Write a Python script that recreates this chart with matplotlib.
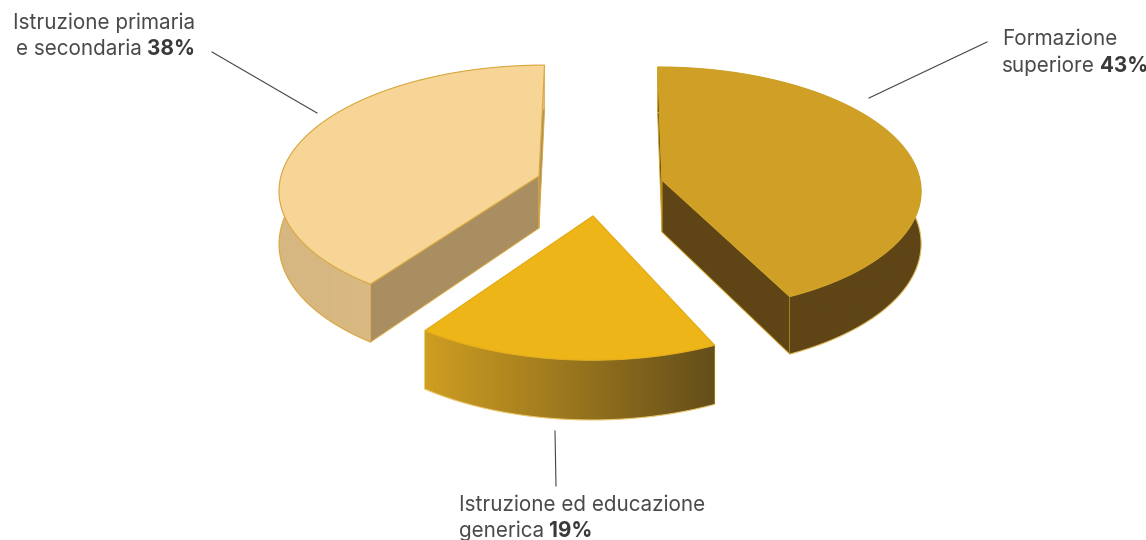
import numpy as np
import matplotlib
matplotlib.use('Agg')
import matplotlib.pyplot as plt
from matplotlib.colors import LinearSegmentedColormap
from matplotlib.patches import Polygon

plt.rcParams['font.family'] = ['Inter', 'DejaVu Sans']

# label text and the printed percentages
categories = [['Formazione', 'superiore'],
              ['Istruzione ed educazione', 'generica'],
              ['Istruzione primaria', 'e secondaria']]
percents = ['43%', '19%', '38%']
# slice edges as they are drawn in the picture, degrees clockwise from the top
sweep_start = [0, 155.5, 215.5]
sweep_end = [153.5, 215, 360]

top_colors = ['#CFA025', '#EDB518', '#F6D597']
cut_colors = ['#5F4516', '#8A6A20', '#A98E62']
wall_colors = [('#5F4516', '#5F4516'), ('#CF9E22', '#644E1A'), ('#D6B681', '#E0BE84')]
edge_colors = ['#D0A228', '#E4AE1C', '#D9A83E']
rim_colors = ['#E0BC60', '#EBC76E', '#D9A83E']

# apex of each exploded slice, in pixels
centers = [(662, 180), (593, 216), (539, 176)]
# depth and perspective differ a bit as the near slice is closer to the viewer
depths = [121.5, 124, 122]
persp = [0.075, 0.14, 0.10]
height_gain = [0.12, 0.15, 0.14]

A = 258      # half width of the pie
H = 52       # thickness at the apex
VX = 600     # vanishing point


def project(i, t):
    cx, cy = centers[i]
    s = 1 / (1 + persp[i] * np.sin(t))
    x = VX + (cx - VX + A * np.cos(t)) * s
    y = cy - depths[i] * np.sin(t) * s
    return x, y, H * (1 - height_gain[i] * np.sin(t))


def gradient_poly(ax, pts, c0, c1, z):
    pts = np.array(pts)
    cmap = LinearSegmentedColormap.from_list('wall', [c0, c1])
    im = ax.imshow(np.linspace(0, 1, 256).reshape(1, -1), cmap=cmap, aspect='auto', zorder=z,
                   extent=(pts[:, 0].min(), pts[:, 0].max(), pts[:, 1].max(), pts[:, 1].min()))
    clip = Polygon(pts, closed=True, transform=ax.transData)
    im.set_clip_path(clip)


def draw_slice(ax, i, t0, t1, z):
    cx, cy = centers[i]
    t = np.linspace(t0, t1, 200)
    x, y, h = project(i, t)

    # the two cut faces
    for tt in (t0, t1):
        ex, ey, eh = project(i, tt)
        quad = [(cx, cy), (ex, ey), (ex, ey + eh), (cx, cy + H)]
        ax.add_patch(Polygon(quad, closed=True, fc=cut_colors[i], ec=edge_colors[i], lw=0.7, zorder=z))

    # outer wall
    wall = np.r_[np.c_[x, y], np.c_[x, y + h][::-1]]
    gradient_poly(ax, wall, wall_colors[i][0], wall_colors[i][1], z + 1)
    ax.plot(x, y + h, color=rim_colors[i], lw=0.8, zorder=z + 1)

    # top face
    top = np.r_[[(cx, cy)], np.c_[x, y]]
    ax.add_patch(Polygon(top, closed=True, fc=top_colors[i], ec=edge_colors[i], lw=0.8, zorder=z + 2))


def two_part_label(ax, x, y, plain, bold, align):
    # regular text followed by the bold percentage on the same baseline
    r = ax.figure.canvas.get_renderer()
    t1 = ax.text(x, y, plain, fontsize=FS, color='#4A4A4A', va='baseline', ha='left')
    t2 = ax.text(x, y, bold, fontsize=FS, color='#3A3A3A', fontweight='bold', va='baseline', ha='left')
    w1 = t1.get_window_extent(r).width + SPACE
    w2 = t2.get_window_extent(r).width
    if align == 'right':
        t1.set_x(x - w1 - w2)
        t2.set_x(x - w2)
    else:
        t2.set_x(x + w1)


FS = 14.9
SPACE = 5

fig = plt.figure(figsize=(11.46, 5.4), dpi=100)
ax = fig.add_axes([0, 0, 1, 1])

for z, i in enumerate((2, 0, 1)):
    draw_slice(ax, i, np.radians(90 - sweep_start[i]), np.radians(90 - sweep_end[i]), 3 * z + 1)

# leader lines
ax.plot([212, 317], [52, 113], color='#444444', lw=0.8)
ax.plot([987, 869], [42, 98], color='#444444', lw=0.8)
ax.plot([555, 556], [431, 486], color='#444444', lw=0.8)

ax.set_xlim(0, 1146)
ax.set_ylim(540, 0)
ax.axis('off')

fig.canvas.draw()
ax.text(195, 29, categories[2][0], fontsize=FS, color='#4A4A4A', ha='right', va='baseline')
two_part_label(ax, 195, 55, categories[2][1], percents[2], 'right')
ax.text(1002, 45, categories[0][0], fontsize=FS, color='#4A4A4A', ha='left', va='baseline')
two_part_label(ax, 1002, 72, categories[0][1], percents[0], 'left')
ax.text(459, 511, categories[1][0], fontsize=FS, color='#4A4A4A', ha='left', va='baseline')
two_part_label(ax, 459, 537, categories[1][1], percents[1], 'left')

fig.savefig('out.png', dpi=100)
